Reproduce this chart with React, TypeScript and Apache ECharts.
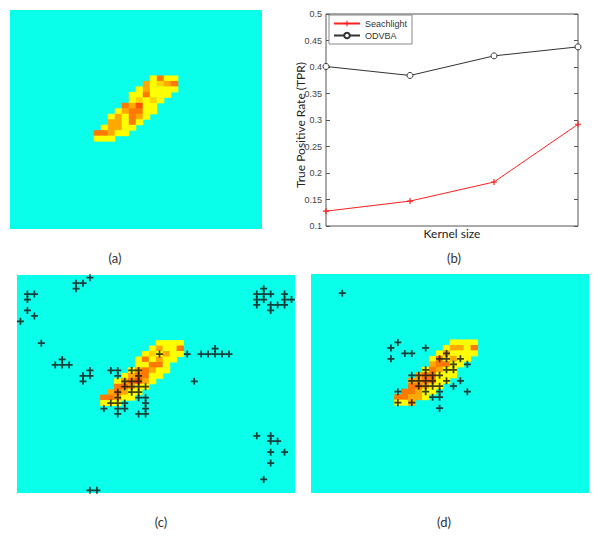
import React, { useEffect, useRef } from 'react';
import * as echarts from 'echarts';

// ---- Panel (b) data ----
const kernelSizes = ['1', '2', '3', '4'];
const searchlightTPR = [0.128, 0.147, 0.183, 0.292];
const odvbaTPR = [0.401, 0.384, 0.421, 0.438];
const seriesNames = ['Seachlight', 'ODVBA'];

// ---- Image panels: grid size (columns x rows) ----
const COLS_A = 36;
const COLS_CD = 40;
const ROWS = 40;
const BLOB_COL0 = 12;
const BLOB_ROW0 = 12;

// blob intensity levels: Y=1 yellow, L=2, O=3, D=4, R=5 (reddest)
const levelCodes = 'YLODR';
const levelColors = ['#FFFF00', '#FFD200', '#FFA800', '#FF7800', '#FF5000'];

const blobA = [
  '........YDYY',
  '.......OYLOD',
  '......YOYYYY',
  '.....YYDYYY.',
  '.....YLYLY..',
  '....DORYY...',
  '...YODDYY...',
  '..YOYDOY....',
  '..OOYDY.....',
  '.YOOYY......',
  'DDOYY.......',
  'YYY.........',
];

const blobC = [
  '........YYYY',
  '.......YOYYD',
  '......YLYOYY',
  '.....YDYOYY.',
  '.....YYDDY..',
  '....YODOYY..',
  '...YODDYY...',
  '..YODROY....',
  '..DDOYY.....',
  '.ODOYY......',
  'DDOYY.......',
  'YYY.........',
];

const blobD = [
  '........YYYY',
  '.......YOOYD',
  '......YOYYYY',
  '.....YDYOYY.',
  '.....ODDYY..',
  '....YDOYY...',
  '...ODDYYY...',
  '..OODDYY....',
  '..DDOYY.....',
  '.DDOYY......',
  'DDOOY.......',
  'YYO.........',
];

// detected voxels [col, row]
const markersC: [number, number][] = [
  [10, 0], [8, 1], [9, 1], [8, 2], [1, 3], [2, 3], [1, 4], [1, 6], [2, 7], [0, 8], [3, 12],
  [6, 15], [5, 16], [6, 16], [7, 16], [10, 17], [9, 18], [10, 18], [9, 19],
  [13, 17], [14, 17], [16, 17], [17, 17], [14, 18], [17, 18], [15, 19], [16, 19], [17, 19],
  [15, 20], [16, 20], [17, 20], [18, 20], [14, 21], [16, 21], [17, 21], [14, 22], [17, 22], [18, 22],
  [13, 23], [14, 23], [15, 23], [18, 23], [12, 24], [14, 24], [15, 24], [18, 24], [14, 25], [17, 25], [18, 25],
  [20, 14], [24, 14], [26, 14], [27, 14], [28, 14], [29, 14], [30, 14], [28, 13], [25, 19],
  [35, 2], [34, 3], [35, 3], [36, 3], [38, 3], [34, 4], [35, 4], [38, 4], [39, 4],
  [34, 5], [36, 5], [37, 5], [38, 5], [36, 6],
  [34, 29], [36, 29], [36, 30], [37, 30], [36, 32], [38, 32], [36, 34], [35, 37],
  [10, 39], [11, 39],
];

const markersD: [number, number][] = [
  [4, 3], [12, 12], [11, 13], [16, 13], [13, 14], [14, 14], [19, 14],
  [11, 15], [18, 15], [19, 15], [21, 15], [20, 16], [22, 16],
  [16, 17], [19, 17], [20, 17],
  [14, 18], [15, 18], [16, 18], [17, 18], [18, 18],
  [14, 19], [15, 19], [16, 19], [17, 19], [19, 19], [21, 19],
  [15, 20], [16, 20], [17, 20], [18, 20], [20, 20],
  [12, 21], [16, 21], [18, 21], [22, 21],
  [17, 22], [18, 22], [12, 23], [14, 23], [18, 24],
];

const CYAN = '#0AFFEB';
const PLUS = 'path://M3,0h2v3h3v2h-3v3h-2v-3h-3v-2h3z';
const SMALL_STAR = 'path://M2,0h1v2h2v1h-2v2h-1v-2h-2v-1h2z';

const idx = (n: number) => Array.from({ length: n }, (_, i) => String(i));

function parseBlob(rows: string[]) {
  const out: number[][] = [];
  rows.forEach((line, r) => {
    for (let c = 0; c < line.length; c++) {
      const lv = levelCodes.indexOf(line[c]);
      if (lv >= 0) out.push([BLOB_COL0 + c, BLOB_ROW0 + r, lv + 1]);
    }
  });
  return out;
}

export default function App() {
  const ref = useRef<HTMLDivElement>(null);
  useEffect(() => {
    if (!ref.current) return;
    const chart = echarts.init(ref.current, undefined, { renderer: 'svg' });
    const hiddenCat = (gridIndex: number, n: number, inverse = false) => ({
      gridIndex, type: 'category', data: idx(n), show: false, inverse,
    });
    const option: any = {
      animation: false,
      textStyle: { fontFamily: 'Liberation Sans, Arial, sans-serif' },
      grid: [
        { left: 10, top: 10, width: 252, height: 219, show: true, backgroundColor: CYAN, borderWidth: 0 },
        { left: 326, top: 14, width: 252, height: 212, show: true, backgroundColor: '#fff', borderColor: '#555', borderWidth: 1 },
        { left: 17, top: 275, width: 278, height: 218, show: true, backgroundColor: CYAN, borderWidth: 0 },
        { left: 311, top: 274, width: 278, height: 219, show: true, backgroundColor: CYAN, borderWidth: 0 },
      ],
      xAxis: [
        hiddenCat(0, COLS_A),
        {
          gridIndex: 1, type: 'category', data: kernelSizes, boundaryGap: false,
          axisLabel: { show: false }, axisTick: { show: false }, axisLine: { show: false },
        },
        hiddenCat(2, COLS_CD),
        hiddenCat(3, COLS_CD),
      ],
      yAxis: [
        hiddenCat(0, ROWS, true),
        {
          gridIndex: 1, type: 'value', min: 0.1, max: 0.5, interval: 0.05,
          axisLabel: { fontSize: 9, color: '#444', margin: 4 },
          axisTick: { show: true, inside: true, length: 4, lineStyle: { color: '#555' } },
          axisLine: { show: false }, splitLine: { show: false },
        },
        {
          gridIndex: 1, type: 'value', position: 'right', min: 0.1, max: 0.5, interval: 0.05,
          axisLabel: { show: false },
          axisTick: { show: true, inside: true, length: 4, lineStyle: { color: '#555' } },
          axisLine: { show: false }, splitLine: { show: false },
        },
        hiddenCat(2, ROWS, true),
        hiddenCat(3, ROWS, true),
      ],
      visualMap: {
        type: 'piecewise', show: false, dimension: 2, seriesIndex: [0, 3, 5],
        pieces: levelColors.map((color, i) => ({ value: i + 1, color })),
      },
      legend: {
        data: seriesNames,
        orient: 'vertical', left: 329, top: 15,
        itemGap: 3, itemWidth: 26, itemHeight: 7,
        padding: [4, 5, 4, 4],
        backgroundColor: '#fff', borderColor: '#888', borderWidth: 1,
        textStyle: { fontSize: 9, color: '#333' },
      },
      series: [
        { type: 'heatmap', xAxisIndex: 0, yAxisIndex: 0, data: parseBlob(blobA), itemStyle: { borderWidth: 0 } },
        {
          name: seriesNames[0], type: 'line', xAxisIndex: 1, yAxisIndex: 1, data: searchlightTPR,
          symbol: SMALL_STAR, symbolSize: 6,
          lineStyle: { color: '#FF2020', width: 1 }, itemStyle: { color: '#FF2020' },
        },
        {
          name: seriesNames[1], type: 'line', xAxisIndex: 1, yAxisIndex: 1, data: odvbaTPR,
          symbol: 'circle', symbolSize: 6,
          lineStyle: { color: '#333', width: 1 },
          itemStyle: { color: '#fff', borderColor: '#333', borderWidth: 1 },
        },
        { type: 'heatmap', xAxisIndex: 2, yAxisIndex: 3, data: parseBlob(blobC), itemStyle: { borderWidth: 0 } },
        {
          type: 'scatter', xAxisIndex: 2, yAxisIndex: 3, data: markersC, z: 5,
          symbol: PLUS, symbolSize: 7, itemStyle: { color: '#111' },
        },
        { type: 'heatmap', xAxisIndex: 3, yAxisIndex: 4, data: parseBlob(blobD), itemStyle: { borderWidth: 0 } },
        {
          type: 'scatter', xAxisIndex: 3, yAxisIndex: 4, data: markersD, z: 5,
          symbol: PLUS, symbolSize: 7, itemStyle: { color: '#111' },
        },
      ],
      graphic: [
        { type: 'text', x: 115, y: 258, style: { text: '(a)', font: '13px Lato', fill: '#333', textAlign: 'center', textVerticalAlign: 'middle' } },
        { type: 'text', x: 454, y: 258, style: { text: '(b)', font: '13px Lato', fill: '#333', textAlign: 'center', textVerticalAlign: 'middle' } },
        { type: 'text', x: 161, y: 522, style: { text: '(c)', font: '13px Lato', fill: '#333', textAlign: 'center', textVerticalAlign: 'middle' } },
        { type: 'text', x: 444, y: 522, style: { text: '(d)', font: '13px Lato', fill: '#333', textAlign: 'center', textVerticalAlign: 'middle' } },
        { type: 'text', x: 452, y: 233, style: { text: 'Kernel size', font: '12px Lato', fill: '#222', textAlign: 'center', textVerticalAlign: 'middle' } },
        { type: 'text', x: 300, y: 125, rotation: Math.PI / 2, style: { text: 'True Positive Rate (TPR)', font: '12px Lato', fill: '#222', textAlign: 'center', textVerticalAlign: 'middle' } },
      ],
    };
    chart.setOption(option);
    return () => chart.dispose();
  }, []);
  return <div ref={ref} style={{ position: 'absolute', left: 0, top: 0, width: 600, height: 541 }} />;
}
